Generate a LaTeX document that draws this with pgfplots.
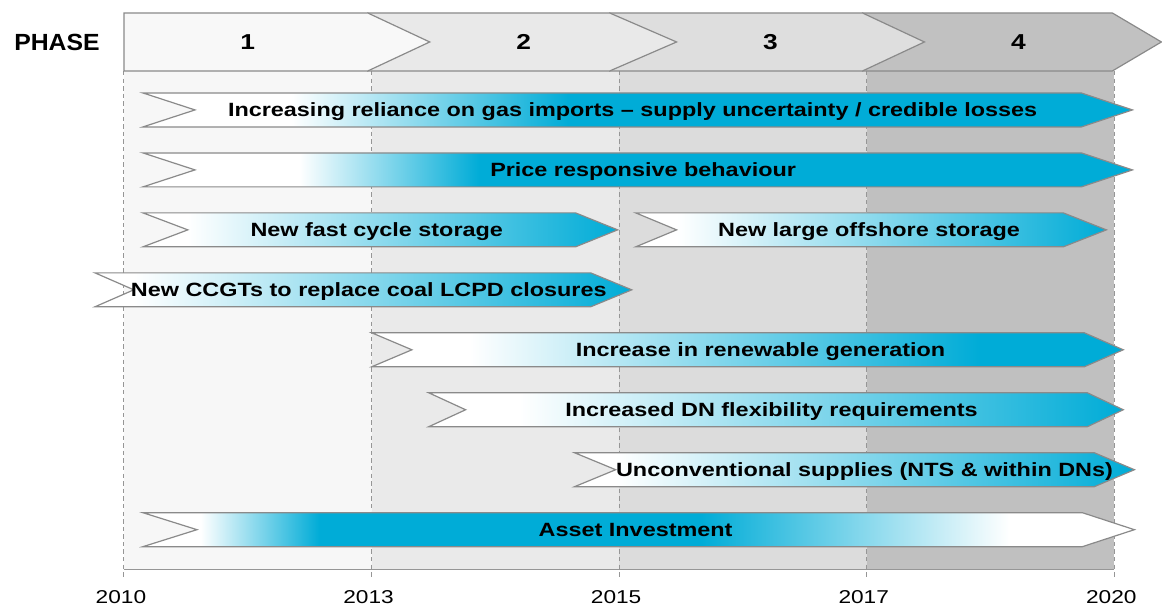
\documentclass[border=0pt]{standalone}
\usepackage{fontspec}
\setmainfont{Liberation Sans}
\usepackage{pgfplots}
\pgfplotsset{compat=1.18}

\definecolor{gblue}{RGB}{0,172,215}
\definecolor{edge}{RGB}{138,138,138}
\definecolor{gridc}{RGB}{150,150,150}
\definecolor{ph1}{RGB}{247,247,247}
\definecolor{ph2}{RGB}{234,234,234}
\definecolor{ph3}{RGB}{220,220,220}
\definecolor{ph4}{RGB}{192,192,192}
\definecolor{hd1}{RGB}{248,248,248}
\definecolor{hd2}{RGB}{233,233,233}
\definecolor{hd3}{RGB}{222,222,222}
\definecolor{hd4}{RGB}{193,193,193}

% gradients: 25bp = left end of the arrow, 75bp = its tip
\pgfdeclarehorizontalshading{shA}{100bp}{color(0bp)=(white); color(32.5bp)=(white); color(46.5bp)=(gblue); color(100bp)=(gblue)}
\pgfdeclarehorizontalshading{shB}{100bp}{color(0bp)=(white); color(32.9bp)=(white); color(42bp)=(gblue); color(100bp)=(gblue)}
\pgfdeclarehorizontalshading{shC}{100bp}{color(0bp)=(white); color(29.7bp)=(white); color(75bp)=(gblue); color(100bp)=(gblue)}
\pgfdeclarehorizontalshading{shD}{100bp}{color(0bp)=(white); color(29.4bp)=(white); color(75bp)=(gblue); color(100bp)=(gblue)}
\pgfdeclarehorizontalshading{shE}{100bp}{color(0bp)=(white); color(28.6bp)=(white); color(75bp)=(gblue); color(100bp)=(gblue)}
\pgfdeclarehorizontalshading{shF}{100bp}{color(0bp)=(white); color(31.5bp)=(white); color(65.4bp)=(gblue); color(100bp)=(gblue)}
\pgfdeclarehorizontalshading{shG}{100bp}{color(0bp)=(white); color(31.5bp)=(white); color(75bp)=(gblue); color(100bp)=(gblue)}
\pgfdeclarehorizontalshading{shH}{100bp}{color(0bp)=(white); color(28.7bp)=(white); color(75bp)=(gblue); color(100bp)=(gblue)}
\pgfdeclarehorizontalshading{shI}{100bp}{color(0bp)=(white); color(27.9bp)=(white); color(33.9bp)=(gblue); color(53.1bp)=(gblue); color(68.7bp)=(white); color(100bp)=(white)}

\newcommand{\barfont}{\fontsize{9.6}{11}\selectfont\bfseries}
\newcommand{\bt}[1]{\scalebox{1.22}[1]{#1}}

\begin{document}
\begin{tikzpicture}[lab/.style={font=\barfont, anchor=base, yshift=-3.45pt}]
\begin{axis}[
    scale only axis,
    width=495.5pt, height=249.5pt,
    xmin=0, xmax=4,
    ymin=0.35, ymax=8.6667,
    y dir=reverse,
    clip=false,
    axis line style={draw=none},
    xtick={0,1,2,3,4},
    xticklabels={\bt{2010},\bt{2013},\bt{2015},\bt{2017},\bt{2020}},
    ytick=\empty,
    major tick length=0pt,
    xticklabel style={font=\fontsize{9.3}{10}\selectfont, yshift=-7pt, xshift=-1.5pt},
    bar/.style={draw=edge, line width=0.6pt, shade},
]

% phase columns
\addplot[fill=ph1, draw=none] coordinates {(0,0.35) (1,0.35) (1,8.6667) (0,8.6667)} -- cycle;
\addplot[fill=ph2, draw=none] coordinates {(1,0.35) (2,0.35) (2,8.6667) (1,8.6667)} -- cycle;
\addplot[fill=ph3, draw=none] coordinates {(2,0.35) (3,0.35) (3,8.6667) (2,8.6667)} -- cycle;
\addplot[fill=ph4, draw=none] coordinates {(3,0.35) (4,0.35) (4,8.6667) (3,8.6667)} -- cycle;

% dashed year lines and base line
\foreach \xx in {0,1,2,3,4} {
  \edef\tmp{\noexpand\addplot[gridc, line width=0.5pt, dash pattern=on 2.2pt off 1.6pt] coordinates {(\xx,0.35) (\xx,8.8)};}
  \tmp
}
\addplot[gridc, line width=0.8pt] coordinates {(0,8.6667) (4,8.6667)};

% phase header
\addplot[fill=hd4, draw=edge, line width=0.6pt] coordinates {(2.983,-0.6167) (3.992,-0.6167) (4.190,-0.1333) (3.992,0.35) (2.983,0.35)} -- cycle;
\addplot[fill=hd3, draw=edge, line width=0.6pt] coordinates {(1.962,-0.6167) (2.983,-0.6167) (3.233,-0.1333) (2.983,0.35) (1.962,0.35)} -- cycle;
\addplot[fill=hd2, draw=edge, line width=0.6pt] coordinates {(0.985,-0.6167) (1.962,-0.6167) (2.232,-0.1333) (1.962,0.35) (0.985,0.35)} -- cycle;
\addplot[fill=hd1, draw=edge, line width=0.6pt] coordinates {(0,-0.6167) (0.985,-0.6167) (1.235,-0.1333) (0.985,0.35) (0,0.35)} -- cycle;

\node[font=\fontsize{11.7}{13}\selectfont\bfseries] at (axis cs:-0.2704,-0.1333) {\scalebox{1.06}[1]{PHASE}};
\node[font=\fontsize{10.8}{12}\selectfont\bfseries] at (axis cs:0.5,-0.1333) {\bt{1}};
\node[font=\fontsize{10.8}{12}\selectfont\bfseries] at (axis cs:1.6145,-0.1333) {\bt{2}};
\node[font=\fontsize{10.8}{12}\selectfont\bfseries] at (axis cs:2.6115,-0.1333) {\bt{3}};
\node[font=\fontsize{10.8}{12}\selectfont\bfseries] at (axis cs:3.6125,-0.1333) {\bt{4}};

% arrows
\addplot[bar, shading=shA] coordinates {(0.077,0.717) (3.867,0.717) (4.073,1) (3.867,1.283) (0.077,1.283) (0.287,1)} -- cycle;
\addplot[bar, shading=shB] coordinates {(0.077,1.717) (3.867,1.717) (4.073,2) (3.867,2.283) (0.077,2.283) (0.287,2)} -- cycle;
\addplot[bar, shading=shC] coordinates {(0.077,2.717) (1.824,2.717) (1.994,3) (1.824,3.283) (0.077,3.283) (0.258,3)} -- cycle;
\addplot[bar, shading=shD] coordinates {(2.067,2.717) (3.794,2.717) (3.968,3) (3.794,3.283) (2.067,3.283) (2.232,3)} -- cycle;
\addplot[bar, shading=shE] coordinates {(-0.117,3.717) (1.885,3.717) (2.051,4) (1.885,4.283) (-0.117,4.283) (0.040,4)} -- cycle;
\addplot[bar, shading=shF] coordinates {(1.001,4.717) (3.879,4.717) (4.036,5) (3.879,5.283) (1.001,5.283) (1.163,5)} -- cycle;
\addplot[bar, shading=shG] coordinates {(1.231,5.717) (3.891,5.717) (4.036,6) (3.891,6.283) (1.231,6.283) (1.380,6)} -- cycle;
\addplot[bar, shading=shH] coordinates {(1.820,6.717) (3.919,6.717) (4.081,7) (3.919,7.283) (1.820,7.283) (1.986,7)} -- cycle;
\addplot[bar, shading=shI] coordinates {(0.077,7.717) (3.871,7.717) (4.081,8) (3.871,8.283) (0.077,8.283) (0.295,8)} -- cycle;

\node[lab] at (axis cs:2.0545,1) {\bt{Increasing reliance on gas imports -- supply uncertainty / credible losses}};
\node[lab] at (axis cs:2.0969,2) {\bt{Price responsive behaviour}};
\node[lab] at (axis cs:1.0212,3) {\bt{New fast cycle storage}};
\node[lab] at (axis cs:3.0091,3) {\bt{New large offshore storage}};
\node[lab] at (axis cs:0.9889,4) {\bt{New CCGTs to replace coal LCPD closures}};
\node[lab] at (axis cs:2.5711,5) {\bt{Increase in renewable generation}};
\node[lab] at (axis cs:2.6155,6) {\bt{Increased DN flexibility requirements}};
\node[lab] at (axis cs:2.9909,7) {\bt{Unconventional supplies (NTS \& within DNs)}};
\node[lab] at (axis cs:2.0666,8) {\bt{Asset Investment}};

% page frame, same proportions as the reference
\path (axis cs:-0.5005,-0.8333) rectangle (axis cs:4.1897,9.25);
\end{axis}
\end{tikzpicture}
\end{document}
